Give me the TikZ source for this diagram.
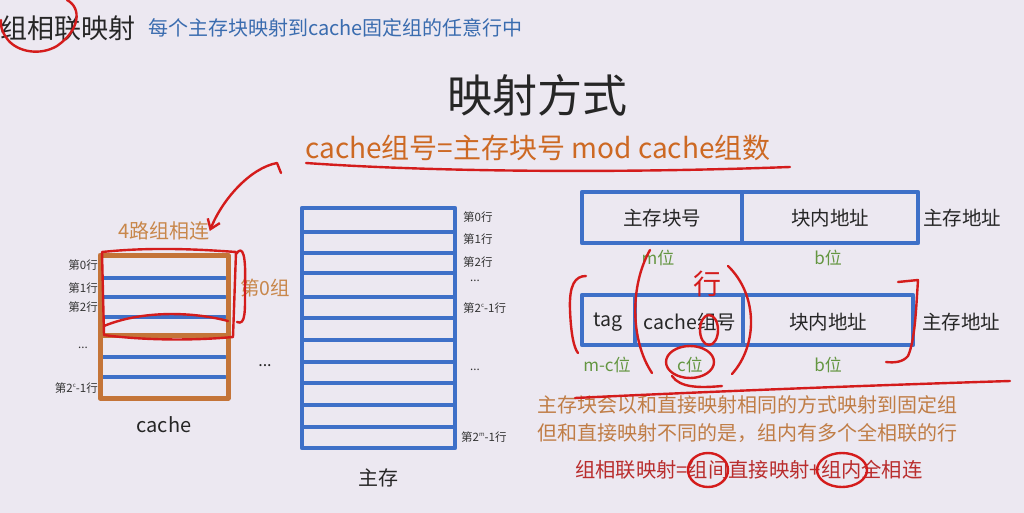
\documentclass[tikz,border=0pt]{standalone}
\usepackage{fontspec}
\setmainfont{Noto Sans CJK SC}
\usetikzlibrary{arrows.meta}
\definecolor{bg}{RGB}{236,232,241}
\definecolor{boxblue}{RGB}{62,112,200}
\definecolor{subblue}{RGB}{58,108,175}
\definecolor{cacheor}{RGB}{196,116,56}
\definecolor{fmorange}{RGB}{205,105,35}
\definecolor{txtorange}{RGB}{200,135,75}
\definecolor{paraor}{RGB}{192,125,70}
\definecolor{bitgreen}{RGB}{100,150,65}
\definecolor{penred}{RGB}{212,28,28}
\definecolor{frmred}{RGB}{185,45,45}
\newcommand\fsz[1]{\fontsize{#1}{#1}\selectfont}
\tikzset{
  txt/.style={inner sep=0pt, text=black!85},
  lbl/.style={inner sep=0pt, text=black!80, font=\fsz{11.5}},
  bits/.style={inner sep=0pt, text=bitgreen, font=\fsz{17}},
  addr/.style={inner sep=0pt, text=black!85, font=\fsz{19.5}},
  bluebox/.style={draw=boxblue, line width=4.5pt, line join=round},
  rowline/.style={draw=boxblue, line width=4pt, line cap=round},
  cachebox/.style={draw=cacheor, line width=5pt, line join=round},
  pen/.style={draw=penred, line width=2.4pt, line cap=round, line join=round},
}
\begin{document}
\begin{tikzpicture}[x=1pt,y=-1pt]
\fill[bg] (0,0) rectangle (1024,513);
\useasboundingbox (0,0) rectangle (1024,513);

% header
\node[txt, anchor=west, font=\fsz{27}] (hdr) at (0,28) {组相联映射};
\node[txt, anchor=west, text=subblue, font=\fsz{20}] (sub) at (148,28) {每个主存块映射到cache固定组的任意行中};
\node[txt, font=\fsz{45}] (title) at (537,95) {映射方式};
\node[txt, text=fmorange, font=\fsz{28}] (formula) at (538,148) {cache组号=主存块号 mod cache组数};

% cache
\foreach \y in {278,297,317,357,377} \draw[rowline] (103,\y) -- (225,\y);
\draw[cachebox] (100,255) rectangle (228,398);
\draw[cachebox] (100,335) -- (228,335);
\node[txt, text=txtorange, font=\fsz{20}] (four) at (164,231) {4路组相连};
\node[txt, text=txtorange, font=\fsz{19.5}, anchor=west] (g0) at (240,288) {第0组};
\node[lbl, anchor=east] (c0) at (98,265) {第0行};
\node[lbl, anchor=east] (c1) at (98,288) {第1行};
\node[lbl, anchor=east] (c2) at (98,307) {第2行};
\node[lbl, anchor=east] (cd) at (88,348) {...};
\node[lbl, anchor=east] (cl) at (98,388) {第2\raisebox{0.45em}{\fsz{6}c}-1行};
\node[txt, font=\fsz{16}] (cdots) at (265,366) {...};
\node[txt, font=\fsz{20}] (cachelbl) at (164,425) {cache};

% main memory
\foreach \y in {232,253,273,297,318,340,362,383,405,427} \draw[rowline] (304,\y) -- (453,\y);
\draw[bluebox] (302,208) rectangle (455,448);
\node[lbl, anchor=west] (m0) at (463,217) {第0行};
\node[lbl, anchor=west] (m1) at (463,239) {第1行};
\node[lbl, anchor=west] (m2) at (463,262) {第2行};
\node[lbl, anchor=west] (md) at (470,281) {...};
\node[lbl, anchor=west] (mc) at (463,308) {第2\raisebox{0.45em}{\fsz{6}c}-1行};
\node[lbl, anchor=west] (md2) at (470,370) {...};
\node[lbl, anchor=west] (mm) at (461,437) {第2\raisebox{0.45em}{\fsz{6}m}-1行};
\node[txt, font=\fsz{20}] (mainlbl) at (378,478) {主存};

% address 1
\draw[bluebox] (582,192) rectangle (918,243);
\draw[bluebox] (742,192) -- (742,243);
\node[addr] (a1) at (662,218) {主存块号};
\node[addr] (a2) at (830,218) {块内地址};
\node[addr] (a3) at (962,218) {主存地址};
\node[bits] (b1) at (658,258) {m位};
\node[bits] (b2) at (828,258) {b位};

% address 2
\draw[bluebox] (582,295) rectangle (913,345);
\draw[bluebox] (635,295) -- (635,345);
\node[addr] (t1) at (608,322) {tag};
\node[addr] (t2) at (690,322) {cache组号};
\node[addr] (t3) at (828,322) {块内地址};
\node[addr] (t4) at (961,322) {主存地址};
\draw[bluebox] (743,295) -- (743,345);
\node[bits] (d1) at (607,365) {m-c位};
\node[bits] (d2) at (690,365) {c位};
\node[bits] (d3) at (828,365) {b位};

% explanation
\node[txt, text=paraor, font=\fsz{20}, anchor=west] (p1) at (537,405) {主存块会以和直接映射相同的方式映射到固定组};
\node[txt, text=paraor, font=\fsz{20}, anchor=west] (p2) at (537,433) {但和直接映射不同的是，组内有多个全相联的行};
\node[txt, text=frmred, font=\fsz{20.3}, anchor=west] (p3) at (575,470) {组相联映射=组间直接映射+组内全相连};

% red handwriting
\draw[pen] (67,0) .. controls (82,8) and (80,30) .. (57,46) .. controls (40,56) and (18,52) .. (8,40) .. controls (2,32) and (0,26) .. (1,20);
\draw[pen] (306,163) .. controls (420,171) and (600,174) .. (790,167);
\coordinate (arrstart) at (281,173);
\draw[pen, -{Straight Barb[length=9pt,width=13pt]}] (arrstart) -- (277,163) .. controls (250,168) and (222,200) .. (four.east);
\draw[pen] (102,252) .. controls (150,247) and (195,249) .. (236,252) -- (233,337) .. controls (190,341) and (140,340) .. (104,335) -- cycle;
\draw[pen] (104,326) .. controls (140,311) and (190,311) .. (228,321);
\draw[pen] (236,254) .. controls (243,244) and (246,256) .. (245,285) .. controls (245,310) and (246,326) .. (237,322);
\node[txt, text=penred, font=\fsz{28}] (hang) at (707,284) {行};
\draw[pen] (586,276) .. controls (575,276) and (569,285) .. (570,310) .. controls (571,335) and (574,348) .. (578,353);
\draw[pen] (650,250) .. controls (630,285) and (630,340) .. (652,373);
\draw[pen] (728,266) .. controls (758,295) and (758,345) .. (732,374);
\draw[pen] (709,330) ellipse [x radius=9, y radius=15];
\draw[pen] (690,362) ellipse [x radius=24, y radius=16];
\draw[pen] (672,376) .. controls (680,388) and (700,388) .. (722,386);
\draw[pen] (898,282) -- (918,280) .. controls (916,310) and (915,340) .. (908,356) .. controls (903,362) and (895,363) .. (886,362);
\draw[pen] (575,398) .. controls (700,392) and (850,386) .. (1010,381);
\draw[pen] (708,470) ellipse [x radius=20, y radius=17];
\draw[pen] (842,470) ellipse [x radius=25, y radius=17];
\end{tikzpicture}
\end{document}
